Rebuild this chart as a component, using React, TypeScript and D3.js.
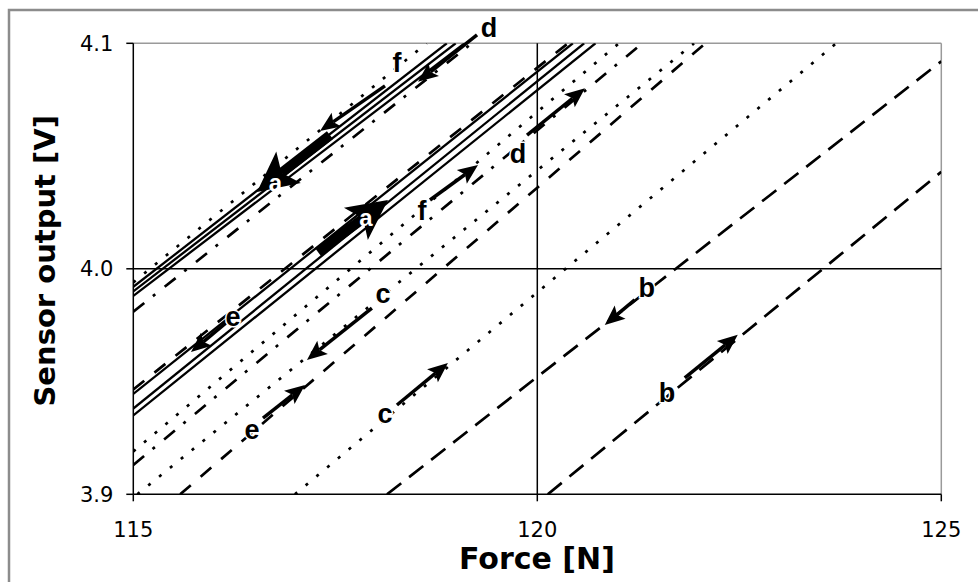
import React from 'react';
import * as d3 from 'd3';

// axis ticks
const forceTicks = [115, 120, 125];
const voltTicks = [3.9, 4.0, 4.1];

// branches of the hysteresis curves (straight segments, one row per line)
const branchNames = [
  'f down', 'a down 1', 'a down 2', 'a down 3', 'd down', 'e down',
  'a up 1', 'a up 2', 'a up 3', 'f up', 'd up', 'c down', 'e up', 'c up', 'b down', 'b up',
];
const branchStyle = [
  'dot', 'solid', 'solid', 'solid', 'dashdot', 'dash',
  'solid', 'solid', 'solid', 'dot', 'dashdot', 'dot', 'dash', 'dot', 'longdash', 'longdash',
];
const startForce = [115, 115, 115, 115, 115, 115, 115, 115, 115, 115, 115, 115.05, 115.58, 117.0, 118.14, 120.13];
const startVolt = [3.994, 3.992, 3.990, 3.988, 3.981, 3.9465, 3.9445, 3.938, 3.935, 3.919, 3.913, 3.9, 3.9, 3.9, 3.9, 3.9];
const endForce = [118.63, 118.88, 118.99, 119.10, 119.19, 120.38, 120.44, 120.58, 120.72, 121.01, 121.30, 121.94, 122.08, 123.70, 125, 125];
const endVolt = [4.1, 4.1, 4.1, 4.1, 4.1, 4.1, 4.1, 4.1, 4.1, 4.1, 4.1, 4.1, 4.1, 4.1, 4.092, 4.043];

// direction arrows with their letters
const arrowLabel = ['f', 'd', 'a', 'a', 'f', 'd', 'e', 'c', 'e', 'c', 'b', 'b'];
const arrowBig = [false, false, true, true, false, false, false, false, false, false, false, false];
const arrowFrom = [
  [118.115, 4.0811], [119.254, 4.1037], [117.434, 4.0593], [117.286, 4.0074],
  [118.672, 4.0305], [119.873, 4.0593], [116.147, 3.976], [117.953, 3.9826],
  [116.605, 3.9338], [118.263, 3.9396], [121.206, 3.9862], [121.825, 3.9516],
];
const arrowTo = [
  [117.311, 4.0611], [118.524, 4.0829], [116.531, 4.0341], [118.152, 4.0305],
  [119.266, 4.046], [120.59, 4.0801], [115.714, 3.9631], [117.149, 3.9596],
  [117.125, 3.9485], [118.894, 3.9582], [120.835, 3.9751], [122.481, 3.9707],
];
const labelAt = [
  [118.264, 4.0916], [119.402, 4.1072], [116.76, 4.0385], [117.88, 4.0228],
  [118.573, 4.0261], [119.761, 4.0513], [116.234, 3.9791], [118.089, 3.9893],
  [116.469, 3.929], [118.115, 3.9361], [121.355, 3.9916], [121.605, 3.9454],
];

const dashes: Record<string, string | undefined> = {
  solid: undefined,
  dot: '3 11',
  dash: '14 13',
  longdash: '18 10',
  dashdot: '14 11 3 12',
};

const x = d3.scaleLinear().domain([115, 125]).range([133.3, 941.3]);
const y = d3.scaleLinear().domain([3.9, 4.1]).range([494.3, 43.3]);

const arrowPath = (x1: number, y1: number, x2: number, y2: number, big: boolean) => {
  const L = big ? 40 : 20;
  const Wd = big ? 20 : 8.5;
  const N = big ? 9 : 4;
  const len = Math.hypot(x2 - x1, y2 - y1);
  const ux = (x2 - x1) / len;
  const uy = (y2 - y1) / len;
  const nx = -uy;
  const ny = ux;
  const bx = x2 - ux * L;
  const by = y2 - uy * L;
  const head = [
    [x2, y2],
    [bx + nx * Wd, by + ny * Wd],
    [x2 - ux * (L - N), y2 - uy * (L - N)],
    [bx - nx * Wd, by - ny * Wd],
  ];
  return {
    shaft: [x1, y1, x2 - ux * (L - N), y2 - uy * (L - N)],
    head: 'M' + head.map((p) => p.join(',')).join('L') + 'Z',
  };
};

const App = () => {
  const line = d3.line();
  const [x0, x1] = x.range();
  const [yb, yt] = y.range();
  const tickFont = '"DejaVu Sans", Verdana, sans-serif';
  const letterFont = '"Liberation Sans", Arial, sans-serif';

  return (
    <svg width={978} height={582} style={{ position: 'absolute', left: 0, top: 0, background: '#fff' }}>
      <rect x={9} y={10} width={1000} height={600} fill="#fff" stroke="#8c8c8c" strokeWidth={2.5} />

      <clipPath id="plotArea">
        <rect x={x0} y={yt} width={x1 - x0} height={yb - yt} />
      </clipPath>

      {/* plot frame */}
      <line x1={x0} x2={x1} y1={yt} y2={yt} stroke="#9a9a9a" strokeWidth={1.5} />
      <line x1={x1} x2={x1} y1={yt} y2={yb} stroke="#9a9a9a" strokeWidth={1.5} />
      {/* gridlines */}
      <line x1={x0} x2={x1} y1={y(4.0)} y2={y(4.0)} stroke="#000" strokeWidth={1.5} />
      <line x1={x(120)} x2={x(120)} y1={yt} y2={yb} stroke="#000" strokeWidth={1.5} />

      <g clipPath="url(#plotArea)">
        {branchNames.map((name, i) => (
          <path
            key={name + i}
            d={line([
              [x(startForce[i]), y(startVolt[i])],
              [x(endForce[i]), y(endVolt[i])],
            ]) ?? ''}
            fill="none"
            stroke="#000"
            strokeWidth={branchStyle[i] === 'solid' ? 2.3 : 2.7}
            strokeDasharray={dashes[branchStyle[i]]}
          />
        ))}
      </g>

      {/* axes */}
      <line x1={x0} x2={x0} y1={yt} y2={yb} stroke="#000" strokeWidth={1.5} />
      <line x1={x0} x2={x1} y1={yb} y2={yb} stroke="#000" strokeWidth={1.5} />
      {voltTicks.map((v) => (
        <g key={v}>
          <line x1={x0 - 7} x2={x0} y1={y(v)} y2={y(v)} stroke="#000" strokeWidth={1.5} />
          <text x={x0 - 20} y={y(v)} dy="0.36em" textAnchor="end" fontFamily={tickFont} fontSize={21}>
            {v.toFixed(1)}
          </text>
        </g>
      ))}
      {forceTicks.map((f) => (
        <g key={f}>
          <line x1={x(f)} x2={x(f)} y1={yb} y2={yb + 7} stroke="#000" strokeWidth={1.5} />
          <text x={x(f)} y={537} textAnchor="middle" fontFamily={tickFont} fontSize={21}>
            {f}
          </text>
        </g>
      ))}

      <text x={537} y={569} textAnchor="middle" fontFamily={tickFont} fontWeight="bold" fontSize={30}>
        Force [N]
      </text>
      <text
        transform={`translate(55, ${y(4.0) - 8}) rotate(-90)`}
        textAnchor="middle"
        fontFamily={tickFont}
        fontWeight="bold"
        fontSize={29}
      >
        Sensor output [V]
      </text>

      {/* direction arrows */}
      {arrowLabel.map((lab, i) => {
        const a = arrowPath(
          x(arrowFrom[i][0]), y(arrowFrom[i][1]),
          x(arrowTo[i][0]), y(arrowTo[i][1]),
          arrowBig[i],
        );
        return (
          <g key={'arrow' + i}>
            <line
              x1={a.shaft[0]} y1={a.shaft[1]} x2={a.shaft[2]} y2={a.shaft[3]}
              stroke="#000" strokeWidth={arrowBig[i] ? 10 : 3.5}
            />
            <path d={a.head} fill="#000" />
            <text
              x={x(labelAt[i][0])}
              y={y(labelAt[i][1])}
              dy="0.36em"
              textAnchor="middle"
              fontFamily={letterFont}
              fontWeight="bold"
              fontSize={arrowBig[i] ? 24 : 27}
              fill={arrowBig[i] ? '#fff' : '#000'}
              stroke={arrowBig[i] ? 'none' : '#fff'}
              strokeWidth={arrowBig[i] ? 0 : 3}
              paintOrder="stroke"
            >
              {lab}
            </text>
          </g>
        );
      })}
    </svg>
  );
};

export default App;
